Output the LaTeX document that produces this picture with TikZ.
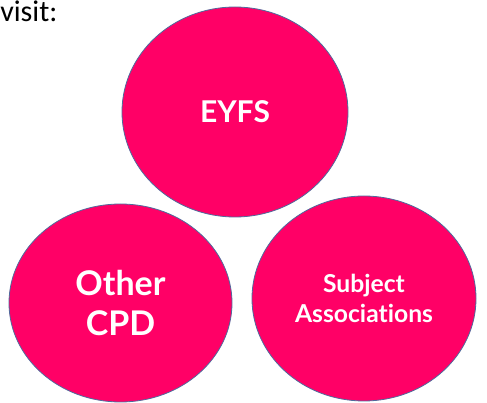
\documentclass[tikz,border=0pt]{standalone}
\usepackage{fontspec}
\setmainfont{Carlito}
\newfontfamily\latofont[Ligatures=NoCommon]{Lato}
\usetikzlibrary{shapes.geometric}
\definecolor{hotpink}{HTML}{FF0066}
\definecolor{rimblue}{HTML}{4F6A9C}

\begin{document}
\begin{tikzpicture}[x=.75pt,y=-.75pt,
    blob/.style={ellipse,fill=hotpink,draw=rimblue,line width=.6pt,
      inner sep=0pt,text=white,align=center}]
      \useasboundingbox (0,0) rectangle (487,403);
      \node[anchor=base west,inner sep=0pt,font=\fontsize{22.5}{26}\selectfont]
        (visit) at (0,22) {visit:};
      \node[blob,minimum width=169.5pt,minimum height=157.5pt,
        font=\latofont\bfseries\fontsize{22.5}{27}\selectfont]
        (eyfs) at (235,112) {EYFS};
      \node[blob,minimum width=167.25pt,minimum height=148.5pt,
        font=\latofont\bfseries\fontsize{25.5}{29.5}\selectfont]
        (other) at (120.5,303) {Other\\CPD};
      \node[blob,minimum width=168pt,minimum height=153.75pt,
        font=\latofont\bfseries\fontsize{18.5}{22}\selectfont]
        (subj) at (364,298.5) {Subject\\Associations};
    \end{tikzpicture}
\end{document}
